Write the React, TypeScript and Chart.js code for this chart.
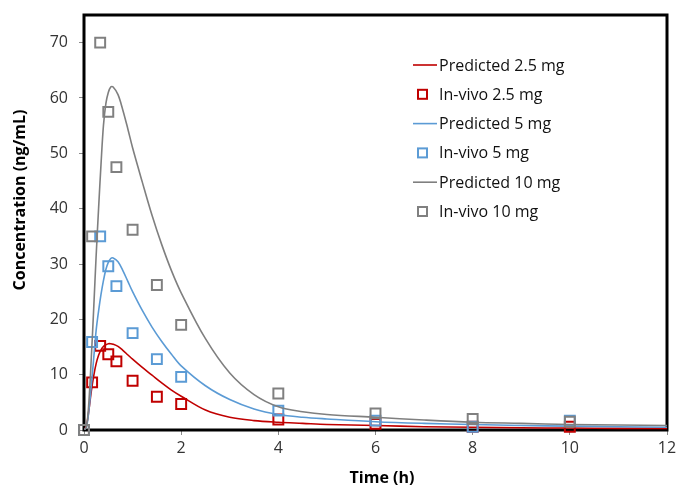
import React, { useEffect, useRef } from 'react';
import { Chart, registerables } from 'chart.js';

Chart.register(...registerables);

// Predicted curves (time in h, concentration in ng/mL)
const predTime = [0, 0.05, 0.1, 0.15, 0.2, 0.25, 0.3, 0.35, 0.4, 0.45, 0.5, 0.55, 0.6, 0.7, 0.8, 0.9, 1.0, 1.2, 1.4, 1.6, 1.8, 2.0, 2.5, 3.0, 3.5, 4, 4.5, 5, 6, 7, 8, 9, 10, 11, 12];
const pred25 = [0, 0.8, 3.5, 7, 9.8, 12, 13.5, 14.5, 15.1, 15.4, 15.6, 15.6, 15.5, 15.1, 14.4, 13.6, 12.8, 11.3, 9.9, 8.5, 7.2, 6.1, 3.6, 2.3, 1.7, 1.4, 1.2, 1.0, 0.8, 0.6, 0.5, 0.4, 0.35, 0.3, 0.3];
const pred5 = [0, 0.5, 3.5, 8, 13, 18, 21.5, 24.5, 27, 29, 30.3, 31, 31.1, 30.4, 28.8, 26.9, 25, 21.6, 18.6, 16.0, 13.7, 11.6, 8.0, 5.5, 3.8, 2.8, 2.3, 2.0, 1.5, 1.2, 1.0, 0.8, 0.7, 0.6, 0.5];
const pred10 = [0, 0.5, 5, 13, 22, 31.5, 40, 48, 55, 59, 61, 62, 62, 60.6, 57.8, 54.5, 51, 44.8, 38.8, 33.5, 28.8, 24.8, 16.5, 10.3, 6.4, 4.2, 3.3, 2.8, 2.3, 1.8, 1.4, 1.2, 1.0, 0.9, 0.8];

// Observed (in-vivo) data
const obsTime = [0, 0.167, 0.333, 0.5, 0.667, 1, 1.5, 2, 4, 6, 8, 10];
const obs25 = [0, 8.6, 15.2, 13.7, 12.4, 8.9, 6.0, 4.7, 1.9, 1.1, 0.6, 0.6];
const obs5 = [0, 15.9, 35, 29.6, 26, 17.5, 12.8, 9.6, 3.5, 1.7, 0.6, 1.7];
const obs10 = [0, 35, 70, 57.5, 47.5, 36.2, 26.2, 19, 6.6, 3.0, 2.0, 1.5];

const seriesLabels = ['Predicted 2.5 mg', 'In-vivo 2.5 mg', 'Predicted 5 mg', 'In-vivo 5 mg', 'Predicted 10 mg', 'In-vivo 10 mg'];
const xTitle = 'Time (h)';
const yTitle = 'Concentration (ng/mL)';

const RED = '#C00000';
const BLUE = '#5B9BD5';
const GRAY = '#7F7F7F';
const FONT = "'Open Sans', 'DejaVu Sans', sans-serif";

const toXY = (xs: number[], ys: number[]) => xs.map((x, i) => ({ x, y: ys[i] }));

export default function App() {
  const ref = useRef<HTMLCanvasElement | null>(null);

  useEffect(() => {
    if (!ref.current) return;

    const lineDs = (label: string, data: number[], color: string, order: number) => ({
      type: 'line' as const,
      label,
      data: toXY(predTime, data),
      borderColor: color,
      backgroundColor: color,
      borderWidth: 1.6,
      pointRadius: 0,
      tension: 0.35,
      fill: false,
      order,
      isLine: true,
    });
    const ptDs = (label: string, data: number[], color: string, order: number) => ({
      type: 'scatter' as const,
      label,
      data: toXY(obsTime, data),
      borderColor: color,
      backgroundColor: 'rgba(0,0,0,0)',
      borderWidth: 2,
      pointStyle: 'rect',
      pointRadius: 7,
      showLine: false,
      clip: false as any,
      order,
      isLine: false,
    });

    const zeroPad = (s: any) => {
      s.paddingTop = 0;
      s.paddingBottom = 0;
      s.paddingLeft = 0;
      s.paddingRight = 0;
    };

    const framePlugin = {
      id: 'frame',
      beforeDatasetsDraw(chart: any) {
        const { ctx, chartArea: a } = chart;
        ctx.save();
        ctx.strokeStyle = '#000';
        ctx.lineWidth = 3;
        ctx.strokeRect(a.left, a.top, a.right - a.left, a.bottom - a.top);
        ctx.restore();
      },
      afterDraw(chart: any) {
        const { ctx } = chart;
        ctx.save();
        ctx.fillStyle = '#000';
        ctx.textAlign = 'center';
        ctx.textBaseline = 'middle';
        ctx.font = `bold 16px ${FONT}`;
        ctx.fillText(xTitle, 382, 478);
        ctx.translate(20, 200);
        ctx.rotate(-Math.PI / 2);
        ctx.fillText(yTitle, 0, 0);
        ctx.restore();

        // legend
        ctx.save();
        const items = chart.data.datasets;
        const x0 = 413;
        const y0 = 65;
        const dy = 29.3;
        ctx.font = `16px ${FONT}`;
        ctx.textBaseline = 'middle';
        ctx.textAlign = 'left';
        items.forEach((d: any, i: number) => {
          const y = y0 + i * dy;
          if (d.isLine) {
            ctx.strokeStyle = d.borderColor;
            ctx.lineWidth = 1.6;
            ctx.beginPath();
            ctx.moveTo(x0, y);
            ctx.lineTo(x0 + 24, y);
            ctx.stroke();
          } else {
            ctx.strokeStyle = d.borderColor;
            ctx.lineWidth = 2;
            ctx.strokeRect(x0 + 5, y - 4.5, 9, 9);
          }
          ctx.fillStyle = '#111';
          ctx.fillText(d.label, x0 + 26, y + 1);
        });
        ctx.restore();
      },
    };

    const chart = new Chart(ref.current, {
      type: 'scatter',
      data: {
        datasets: [
          lineDs(seriesLabels[0], pred25, RED, 5),
          ptDs(seriesLabels[1], obs25, RED, 4),
          lineDs(seriesLabels[2], pred5, BLUE, 3),
          ptDs(seriesLabels[3], obs5, BLUE, 2),
          lineDs(seriesLabels[4], pred10, GRAY, 1),
          ptDs(seriesLabels[5], obs10, '#808080', 0),
        ] as any,
      },
      options: {
        animation: false,
        responsive: false,
        maintainAspectRatio: false,
        layout: { padding: { left: 0, top: 15, right: 9, bottom: 0 } },
        plugins: {
          legend: { display: false },
          tooltip: { enabled: false },
        },
        scales: {
          x: {
            type: 'linear',
            min: 0,
            max: 12,
            ticks: { stepSize: 2, color: '#333', font: { family: FONT, size: 16 }, padding: 4 },
            grid: { display: true, drawOnChartArea: false, drawTicks: true, tickLength: 5, color: '#8a8a8a' },
            border: { display: false },
            afterFit: (s: any) => { s.height = 58; zeroPad(s); },
          },
          y: {
            type: 'linear',
            min: 0,
            max: 75,
            ticks: { stepSize: 10, includeBounds: false, color: '#333', font: { family: FONT, size: 16 }, padding: 11 },
            grid: { display: true, drawOnChartArea: false, drawTicks: true, tickLength: 5, color: '#8a8a8a' },
            border: { display: false },
            afterFit: (s: any) => { s.width = 84; zeroPad(s); },
          },
        },
      } as any,
      plugins: [framePlugin],
    });

    return () => chart.destroy();
  }, []);

  return (
    <div style={{ position: 'fixed', left: 0, top: 0, width: 676, height: 488, background: '#fff' }}>
      <canvas ref={ref} width={676} height={488} style={{ display: 'block', width: 676, height: 488 }} />
    </div>
  );
}
